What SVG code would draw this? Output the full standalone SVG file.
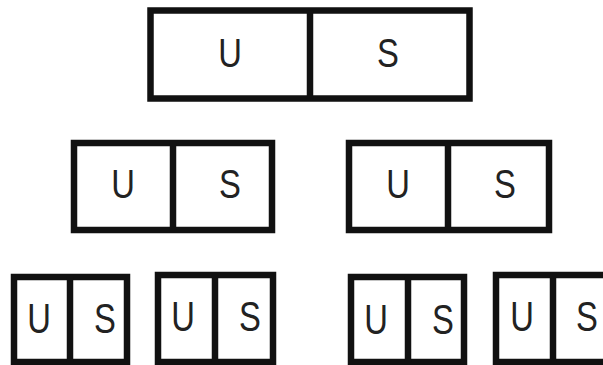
<svg xmlns="http://www.w3.org/2000/svg" width="603" height="365" viewBox="0 0 603 365">
<style>
.box{fill:#fff;stroke:#111;stroke-width:6.5}
.div{stroke:#111;stroke-width:6.5}
.t{font-family:"Liberation Sans",Arial,sans-serif;fill:#222;text-anchor:middle}
.a{font-size:40px}
.b{font-size:42px}
</style>
<rect width="603" height="365" fill="#fff"/>
<g id="root">
<rect class="box" x="150.5" y="10.5" width="319" height="88"/>
<line class="div" x1="310" y1="10.5" x2="310" y2="98.5"/>
<text class="t a" transform="translate(230,67) scale(0.82,1)">U</text>
<text class="t a" transform="translate(388,67) scale(0.82,1)">S</text>
</g>
<g id="left">
<rect class="box" x="74" y="143" width="198" height="87"/>
<line class="div" x1="173" y1="143" x2="173" y2="230"/>
<text class="t a" transform="translate(123,198) scale(0.82,1)">U</text>
<text class="t a" transform="translate(230,198) scale(0.82,1)">S</text>
</g>
<g id="right">
<rect class="box" x="349" y="143" width="200" height="87"/>
<line class="div" x1="448" y1="143" x2="448" y2="230"/>
<text class="t a" transform="translate(398,198) scale(0.82,1)">U</text>
<text class="t a" transform="translate(505,198) scale(0.82,1)">S</text>
</g>
<g id="ll">
<rect class="box" x="14" y="277" width="113" height="85"/>
<line class="div" x1="70" y1="277" x2="70" y2="362"/>
<text class="t b" transform="translate(39,333) scale(0.78,1)">U</text>
<text class="t b" transform="translate(105,333) scale(0.78,1)">S</text>
</g>
<g id="lr">
<rect class="box" x="158" y="275" width="115" height="87"/>
<line class="div" x1="215" y1="275" x2="215" y2="362"/>
<text class="t b" transform="translate(183,331) scale(0.78,1)">U</text>
<text class="t b" transform="translate(250,331) scale(0.78,1)">S</text>
</g>
<g id="rl">
<rect class="box" x="351" y="277" width="113" height="85"/>
<line class="div" x1="408" y1="277" x2="408" y2="362"/>
<text class="t b" transform="translate(376,334) scale(0.78,1)">U</text>
<text class="t b" transform="translate(443,334) scale(0.78,1)">S</text>
</g>
<g id="rr">
<rect class="box" x="496" y="275" width="120" height="87"/>
<line class="div" x1="553" y1="275" x2="553" y2="362"/>
<text class="t b" transform="translate(522,331) scale(0.78,1)">U</text>
<text class="t b" transform="translate(587,331) scale(0.78,1)">S</text>
</g>
<g id="connectors"/>
</svg>
